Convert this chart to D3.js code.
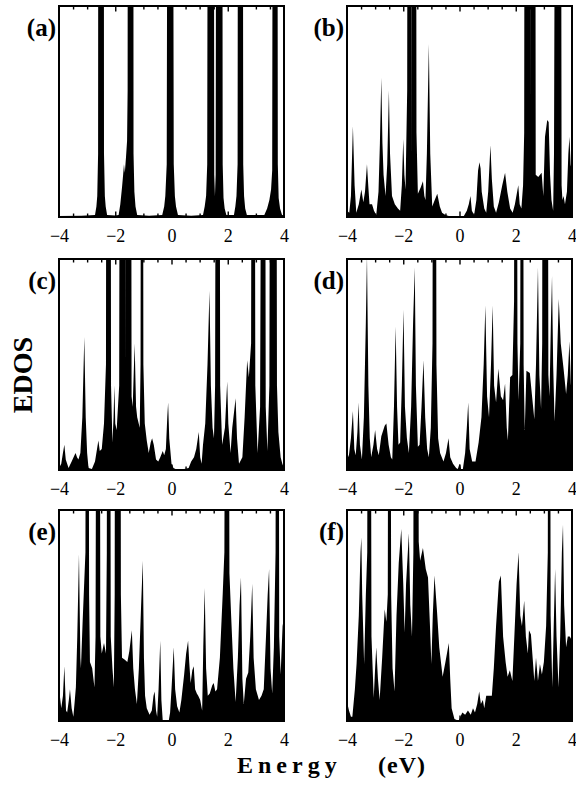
<!DOCTYPE html>
<html>
<head>
<meta charset="utf-8">
<script src="https://cdn.jsdelivr.net/npm/d3@7"></script>
<style>
  body { margin: 0; background: #fff; }
  svg { display: block; }
  text { font-family: "Liberation Serif", "Times New Roman", serif; fill: #000; }
</style>
</head>
<body>
<script>
// Energy axis: labelled ticks and the half-eV minor ticks
const energyTicks = [-4, -2, 0, 2, 4];
const minorTicks = [-3.5, -3, -2.5, -1.5, -1, -0.5, 0.5, 1, 1.5, 2.5, 3, 3.5];
const midTicks = [-2, 0, 2];
const panelLabels = ["(a)", "(b)", "(c)", "(d)", "(e)", "(f)"];

// Electronic density of states, [energy (eV), EDOS in % of frame height].
// Values above 100 run off the top of the frame.
const dosA = [
  [-4.00, 0.5], [-3.20, 0.6], [-2.72, 1], [-2.67, 5], [-2.64, 10], [-2.61, 30], [-2.60, 300],
  [-2.41, 300], [-2.40, 30], [-2.37, 10], [-2.34, 5], [-2.29, 1], [-2.00, 0.7],
  [-1.88, 1], [-1.82, 6], [-1.76, 14], [-1.72, 20], [-1.69, 25], [-1.66, 21], [-1.62, 28],
  [-1.58, 36], [-1.56, 60], [-1.55, 300], [-1.36, 300], [-1.35, 30], [-1.32, 12], [-1.28, 5],
  [-1.22, 1], [-0.80, 0.6], [-0.33, 1], [-0.26, 5], [-0.22, 10], [-0.17, 25], [-0.13, 300],
  [0.04, 300], [0.08, 25], [0.12, 10], [0.16, 5], [0.23, 1], [0.70, 0.6],
  [1.12, 1], [1.18, 5], [1.23, 10], [1.27, 25], [1.30, 300], [1.50, 300], [1.52, 20],
  [1.545, 10], [1.57, 20], [1.60, 300], [1.80, 300], [1.82, 25], [1.85, 9], [1.89, 4],
  [1.95, 1], [2.22, 1], [2.27, 5], [2.31, 10], [2.35, 25], [2.37, 300], [2.53, 300],
  [2.55, 25], [2.58, 10], [2.62, 4], [2.68, 1], [3.30, 1], [3.40, 4], [3.48, 8], [3.54, 13],
  [3.58, 22], [3.61, 300], [3.76, 300], [3.78, 25], [3.81, 9], [3.86, 4], [3.93, 1], [4.00, 0.8]
];

const dosB = [
  [-4.00, 3], [-3.92, 2], [-3.86, 10], [-3.79, 43], [-3.73, 15], [-3.67, 2], [-3.58, 6],
  [-3.49, 13], [-3.42, 7], [-3.36, 12], [-3.29, 25], [-3.24, 14], [-3.20, 6], [-3.11, 6],
  [-3.04, 3], [-2.96, 1], [-2.88, 12], [-2.83, 35], [-2.78, 66], [-2.74, 35], [-2.70, 20],
  [-2.63, 10], [-2.57, 25], [-2.51, 60], [-2.47, 30], [-2.40, 10], [-2.30, 6], [-2.19, 4],
  [-2.11, 3], [-2.05, 15], [-2.00, 37], [-1.96, 20], [-1.92, 13], [-1.86, 60], [-1.84, 300],
  [-1.72, 300], [-1.705, 27], [-1.69, 300], [-1.55, 300], [-1.53, 40], [-1.48, 11],
  [-1.38, 14], [-1.30, 17], [-1.25, 10], [-1.21, 8], [-1.16, 30], [-1.09, 82], [-1.04, 30],
  [-0.97, 5], [-0.88, 8], [-0.79, 11], [-0.70, 5], [-0.62, 2], [-0.50, 1], [-0.35, 0.3],
  [-0.10, 0], [0.15, 0.3], [0.26, 3], [0.33, 6], [0.39, 10], [0.44, 3], [0.52, 1], [0.60, 8],
  [0.66, 22], [0.71, 26], [0.75, 23], [0.79, 12], [0.88, 4], [0.95, 2], [1.02, 12], [1.10, 34],
  [1.15, 18], [1.22, 5], [1.30, 2], [1.40, 7], [1.52, 15], [1.62, 21], [1.70, 12], [1.80, 4],
  [1.89, 2], [1.97, 6], [2.09, 15], [2.14, 6], [2.20, 4], [2.26, 15], [2.30, 40], [2.32, 300],
  [2.51, 300], [2.52, 51], [2.53, 300], [2.69, 300], [2.71, 20], [2.80, 19], [2.92, 21],
  [2.98, 10], [3.04, 38], [3.12, 46], [3.17, 45], [3.22, 20], [3.27, 8], [3.33, 3],
  [3.36, 30], [3.42, 300], [3.60, 300], [3.63, 15], [3.66, 8], [3.70, 10], [3.75, 6],
  [3.82, 12], [3.87, 30], [3.91, 38], [3.95, 25], [4.00, 21]
];

const dosC = [
  [-4.00, 1], [-3.92, 3], [-3.86, 8], [-3.81, 12], [-3.76, 5], [-3.66, 1], [-3.55, 4],
  [-3.45, 7], [-3.41, 8], [-3.36, 6], [-3.31, 5], [-3.24, 8], [-3.17, 25], [-3.10, 63],
  [-3.05, 25], [-3.00, 8], [-2.95, 1], [-2.83, 0.5], [-2.72, 4], [-2.60, 14], [-2.55, 9],
  [-2.48, 10], [-2.40, 22], [-2.33, 50], [-2.31, 300], [-2.17, 300], [-2.15, 40], [-2.10, 13],
  [-2.06, 25], [-2.03, 40], [-2.00, 22], [-1.95, 19], [-1.86, 40], [-1.83, 300], [-1.63, 300],
  [-1.62, 43], [-1.61, 300], [-1.44, 300], [-1.42, 35], [-1.38, 30], [-1.31, 60], [-1.26, 30],
  [-1.22, 25], [-1.13, 20], [-1.10, 50], [-1.08, 300], [-1.02, 300], [-1.00, 50], [-0.95, 22],
  [-0.88, 14], [-0.81, 8], [-0.74, 13], [-0.69, 15], [-0.63, 12], [-0.55, 5], [-0.47, 4],
  [-0.40, 6], [-0.31, 9], [-0.26, 7], [-0.20, 10], [-0.15, 25], [-0.12, 32], [-0.08, 15],
  [0.00, 3], [0.07, 1], [0.14, 0.5], [0.45, 0.5], [0.61, 1], [0.70, 4], [0.80, 6], [0.88, 10],
  [0.97, 18], [1.02, 6], [1.07, 3], [1.12, 12], [1.20, 22], [1.28, 50], [1.35, 85], [1.40, 40],
  [1.46, 20], [1.51, 15], [1.55, 40], [1.59, 300], [1.70, 300], [1.73, 40], [1.80, 12],
  [1.90, 20], [1.98, 42], [2.02, 22], [2.10, 8], [2.16, 20], [2.28, 34], [2.33, 15], [2.40, 3],
  [2.52, 6], [2.60, 25], [2.69, 52], [2.75, 44], [2.83, 60], [2.86, 300], [2.95, 300],
  [2.98, 40], [3.06, 8], [3.15, 30], [3.22, 300], [3.32, 300], [3.35, 30], [3.41, 9],
  [3.48, 40], [3.52, 300], [3.72, 300], [3.75, 40], [3.80, 18], [3.88, 6], [3.94, 3], [4.00, 1]
];

const dosD = [
  [-4.00, 9], [-3.94, 6], [-3.86, 15], [-3.79, 28], [-3.74, 10], [-3.69, 7], [-3.63, 18],
  [-3.59, 32], [-3.54, 12], [-3.47, 5], [-3.40, 25], [-3.33, 70], [-3.29, 102], [-3.24, 40],
  [-3.19, 15], [-3.14, 6], [-3.06, 12], [-3.00, 19], [-2.93, 10], [-2.87, 7], [-2.78, 16],
  [-2.66, 21], [-2.60, 22], [-2.52, 12], [-2.44, 6], [-2.39, 5], [-2.33, 30], [-2.27, 68],
  [-2.22, 30], [-2.17, 12], [-2.11, 13], [-2.05, 40], [-1.99, 76], [-1.94, 30], [-1.87, 15],
  [-1.80, 8], [-1.72, 30], [-1.65, 70], [-1.59, 96], [-1.55, 40], [-1.48, 11], [-1.42, 12],
  [-1.35, 30], [-1.28, 52], [-1.22, 25], [-1.15, 10], [-1.09, 6], [-1.02, 20], [-0.96, 60],
  [-0.93, 300], [-0.85, 300], [-0.82, 50], [-0.76, 15], [-0.69, 8], [-0.57, 4], [-0.48, 8],
  [-0.39, 15], [-0.33, 6], [-0.23, 3], [-0.12, 1], [-0.06, 0.5], [0.00, 3], [0.06, 0.3],
  [0.12, 0.5], [0.20, 8], [0.26, 20], [0.31, 32], [0.36, 10], [0.45, 4], [0.57, 4], [0.68, 13],
  [0.78, 25], [0.86, 50], [0.92, 78], [0.98, 35], [1.05, 25], [1.12, 50], [1.18, 78],
  [1.23, 40], [1.30, 32], [1.38, 48], [1.47, 35], [1.55, 33], [1.62, 41], [1.68, 20],
  [1.72, 14], [1.80, 44], [1.88, 45], [1.94, 80], [1.97, 300], [2.03, 300], [2.06, 60],
  [2.10, 33], [2.16, 60], [2.19, 300], [2.25, 300], [2.28, 50], [2.32, 19], [2.38, 47],
  [2.50, 46], [2.58, 35], [2.66, 24], [2.72, 50], [2.79, 96], [2.84, 45], [2.90, 29],
  [2.94, 60], [2.96, 300], [3.13, 300], [3.16, 45], [3.20, 35], [3.25, 70], [3.29, 92],
  [3.33, 50], [3.38, 23], [3.45, 45], [3.53, 81], [3.60, 60], [3.70, 48], [3.79, 36],
  [3.85, 45], [3.91, 61], [3.96, 40], [4.00, 51]
];

const dosE = [
  [-4.00, 37], [-3.97, 12], [-3.92, 6], [-3.86, 12], [-3.81, 26], [-3.75, 5], [-3.71, 4],
  [-3.65, 10], [-3.61, 15], [-3.55, 6], [-3.49, 2], [-3.45, 8], [-3.40, 16], [-3.35, 40],
  [-3.29, 79], [-3.24, 30], [-3.22, 25], [-3.16, 47], [-3.06, 80], [-3.03, 300], [-2.96, 300],
  [-2.93, 60], [-2.90, 28], [-2.82, 25], [-2.74, 16], [-2.70, 40], [-2.66, 300], [-2.56, 300],
  [-2.53, 40], [-2.48, 32], [-2.40, 37], [-2.33, 32], [-2.30, 80], [-2.28, 300], [-2.19, 300],
  [-2.16, 40], [-2.10, 25], [-2.05, 16], [-2.02, 60], [-2.00, 300], [-1.82, 300], [-1.80, 60],
  [-1.76, 30], [-1.66, 29], [-1.57, 28], [-1.50, 33], [-1.41, 43], [-1.36, 25], [-1.30, 15],
  [-1.23, 8], [-1.16, 25], [-1.08, 55], [-1.02, 76], [-0.98, 30], [-0.94, 12], [-0.88, 6],
  [-0.78, 3], [-0.70, 5], [-0.64, 12], [-0.60, 14], [-0.55, 5], [-0.51, 2], [-0.46, 15],
  [-0.40, 38], [-0.36, 10], [-0.31, 0], [-0.10, 0], [-0.05, 4], [0.00, 15], [0.08, 35],
  [0.13, 15], [0.20, 7], [0.28, 4], [0.35, 10], [0.45, 22], [0.52, 32], [0.59, 38], [0.63, 28],
  [0.68, 18], [0.74, 24], [0.79, 26], [0.84, 15], [0.90, 13], [0.95, 12], [1.02, 10],
  [1.09, 5], [1.13, 35], [1.18, 63], [1.23, 25], [1.29, 12], [1.36, 13], [1.45, 17],
  [1.50, 18], [1.56, 14], [1.62, 15], [1.72, 30], [1.82, 60], [1.88, 80], [1.93, 300],
  [2.02, 300], [2.06, 70], [2.12, 50], [2.20, 25], [2.28, 9], [2.36, 30], [2.42, 55],
  [2.47, 68], [2.52, 20], [2.57, 8], [2.65, 20], [2.73, 23], [2.80, 40], [2.87, 65],
  [2.92, 30], [3.00, 15], [3.11, 10], [3.20, 12], [3.28, 15], [3.36, 40], [3.42, 60],
  [3.47, 72], [3.52, 25], [3.58, 13], [3.64, 35], [3.70, 80], [3.73, 300], [3.80, 300],
  [3.83, 40], [3.88, 22], [3.95, 45], [4.00, 49]
];

const dosF = [
  [-4.00, 9], [-3.93, 5], [-3.86, 2], [-3.81, 2], [-3.72, 15], [-3.66, 27], [-3.58, 50],
  [-3.52, 80], [-3.49, 87], [-3.46, 60], [-3.39, 27], [-3.33, 60], [-3.28, 80], [-3.25, 300],
  [-3.17, 300], [-3.13, 40], [-3.05, 11], [-3.00, 25], [-2.96, 35], [-2.90, 20], [-2.84, 10],
  [-2.75, 30], [-2.66, 53], [-2.60, 47], [-2.55, 60], [-2.52, 300], [-2.47, 300], [-2.43, 60],
  [-2.38, 25], [-2.31, 14], [-2.24, 50], [-2.16, 75], [-2.07, 91], [-2.00, 65], [-1.95, 42],
  [-1.90, 65], [-1.80, 89], [-1.75, 55], [-1.69, 40], [-1.64, 80], [-1.61, 300], [-1.49, 300],
  [-1.45, 85], [-1.40, 76], [-1.30, 82], [-1.20, 72], [-1.12, 68], [-1.05, 45], [-1.00, 27],
  [-0.95, 50], [-0.89, 69], [-0.80, 52], [-0.72, 35], [-0.60, 21], [-0.50, 28], [-0.38, 37],
  [-0.33, 20], [-0.28, 6], [-0.18, 1], [-0.10, 0.5], [-0.02, 0.5], [0.10, 4], [0.20, 3],
  [0.30, 5], [0.40, 3], [0.48, 6], [0.55, 4], [0.63, 8], [0.70, 14], [0.76, 8], [0.83, 10],
  [0.88, 6], [0.95, 12], [1.05, 12], [1.15, 12], [1.22, 25], [1.30, 45], [1.40, 66],
  [1.47, 69], [1.55, 40], [1.64, 28], [1.71, 21], [1.79, 24], [1.88, 19], [1.95, 40],
  [2.03, 65], [2.10, 80], [2.16, 50], [2.22, 45], [2.30, 57], [2.36, 40], [2.43, 32],
  [2.47, 43], [2.54, 41], [2.60, 30], [2.66, 19], [2.72, 30], [2.79, 19], [2.86, 27],
  [2.93, 22], [3.00, 28], [3.08, 45], [3.14, 80], [3.16, 300], [3.21, 300], [3.24, 50],
  [3.30, 16], [3.35, 45], [3.40, 72], [3.45, 40], [3.52, 16], [3.58, 40], [3.64, 80],
  [3.68, 93], [3.72, 55], [3.79, 35], [3.85, 40], [3.92, 40], [4.00, 38]
];

const series = [dosA, dosB, dosC, dosD, dosE, dosF];

// Layout of the 3 x 2 grid of frames
const colX = [59, 347];
const rowY = [6, 259, 510];
const frameW = 225, frameH = 211;

const svg = d3.select("body").append("svg")
  .attr("width", 576).attr("height", 785);

const x = d3.scaleLinear().domain([-4, 4]).range([0, frameW]);
const y = d3.scaleLinear().domain([0, 100]).range([frameH, 0]);

const area = d3.area()
  .x(d => x(d[0]))
  .y0(frameH)
  .y1(d => y(d[1]))
  .curve(d3.curveLinear);

series.forEach((data, i) => {
  const col = i % 2, row = Math.floor(i / 2);
  const g = svg.append("g")
    .attr("transform", `translate(${colX[col]},${rowY[row]})`);

  const clipId = "clip-" + i;
  g.append("clipPath").attr("id", clipId)
    .append("rect").attr("width", frameW).attr("height", frameH);

  g.append("path")
    .datum(data)
    .attr("clip-path", `url(#${clipId})`)
    .attr("fill", "#000")
    .attr("d", area);

  // inward ticks on top and bottom edges
  const tickAxes = [
    { axis: d3.axisBottom, dy: frameH, sign: -1 },
    { axis: d3.axisTop, dy: 0, sign: -1 }
  ];
  tickAxes.forEach(t => {
    const minor = g.append("g").attr("transform", `translate(0,${t.dy})`)
      .call(t.axis(x).tickValues(minorTicks).tickSize(-3.5).tickFormat(""));
    const mid = g.append("g").attr("transform", `translate(0,${t.dy})`)
      .call(t.axis(x).tickValues(midTicks).tickSize(-5.5).tickFormat(""));
    [minor, mid].forEach(a => {
      a.select(".domain").remove();
      a.selectAll("line").attr("stroke", "#000").attr("stroke-width", 1.4);
    });
  });

  // tick labels below the frame
  const labels = g.append("g").attr("transform", `translate(0,${frameH})`)
    .call(d3.axisBottom(x).tickValues(energyTicks).tickSize(0).tickPadding(12)
      .tickFormat(d3.format("d")));
  labels.select(".domain").remove();
  labels.selectAll("text")
    .attr("font-family", '"Liberation Serif", "Times New Roman", serif')
    .attr("font-size", 18)
    .attr("fill", "#000");

  g.append("rect")
    .attr("width", frameW).attr("height", frameH)
    .attr("fill", "none").attr("stroke", "#000").attr("stroke-width", 2);

  g.append("text")
    .attr("x", -3).attr("y", 30)
    .attr("text-anchor", "end")
    .attr("font-size", 25).attr("font-weight", "bold")
    .text(panelLabels[i]);
});

// axis titles
svg.append("text")
  .attr("transform", "translate(32,375) rotate(-90)")
  .attr("text-anchor", "middle")
  .attr("font-size", 28).attr("font-weight", "bold")
  .text("EDOS");

const title = svg.append("text")
  .attr("x", 237).attr("y", 773)
  .attr("font-size", 24).attr("font-weight", "bold");
title.append("tspan").attr("letter-spacing", 5).text("Energy");
title.append("tspan").attr("x", 378).attr("letter-spacing", 1).text("(eV)");
</script>
</body>
</html>
